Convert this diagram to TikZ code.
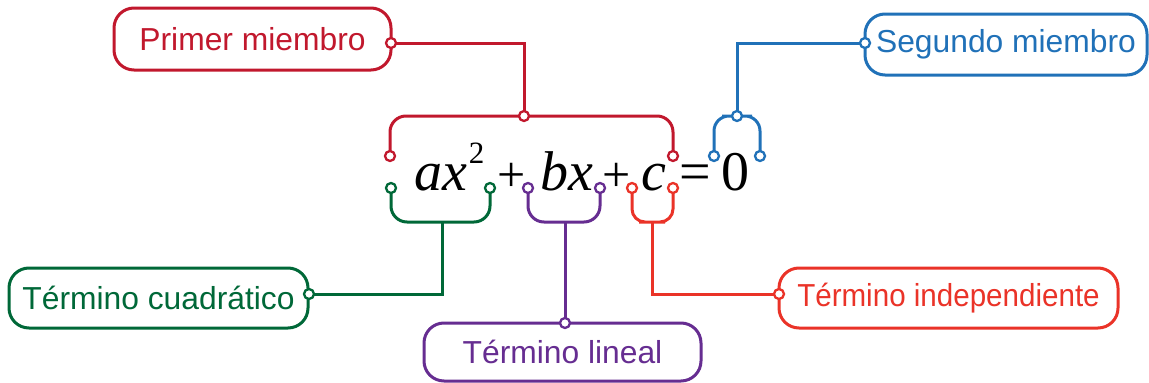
\documentclass[tikz,border=0pt]{standalone}
\usepackage{fontspec}
\usepackage{graphicx}
\setmainfont{Liberation Sans}
\newfontfamily\eqfont{Liberation Serif}
\definecolor{cred}{RGB}{193,24,45}
\definecolor{cblue}{RGB}{32,113,184}
\definecolor{cgreen}{RGB}{0,104,56}
\definecolor{cpurple}{RGB}{102,45,145}
\definecolor{corange}{RGB}{234,51,40}
\begin{document}
\begin{tikzpicture}[x=1pt,y=-1pt,
  label box/.style={draw, rounded corners=20pt, line width=3pt, inner sep=0pt,
    font=\fontsize{31.8}{36}\selectfont},
  conn/.style={line width=3pt, rounded corners=0pt},
  brack/.style={line width=3pt, rounded corners=16pt},
  pinpt/.style={circle, draw=#1, fill=white, inner sep=0pt, minimum size=10pt, line width=2.3pt},
  eq/.style={inner sep=0pt, anchor=base, font=\eqfont\fontsize{56}{60}\selectfont\itshape},
  eqr/.style={inner sep=0pt, anchor=base, font=\eqfont\fontsize{56}{60}\selectfont},
  eqs/.style={inner sep=0pt, anchor=base, font=\eqfont\fontsize{50}{54}\selectfont},
  eqt/.style={inner sep=0pt, anchor=base, font=\eqfont\fontsize{31}{34}\selectfont}]
\useasboundingbox (0,0) rectangle (1149,383);

% equation
\node[eq] (ax) at (441,190) {ax};
\node[eqt] (sq) at (476.5,163.5) {2};
\node[eqs] (pl1) at (512,191) {+};
\node[eq] (bx) at (566.5,190) {bx};
\node[eqs] (pl2) at (617,191) {+};
\node[eq] (cc) at (654,190) {c};
\node[eqr] (eqs) at (695,190) {=};
\node[eqr] (zero) at (735,190) {0};

% boxes
\node[label box, cred, minimum width=277pt, minimum height=62pt] (p1) at (252.5,39) {Primer miembro};
\node[label box, cblue, minimum width=282pt, minimum height=61pt] (s2) at (1006,44.5) {Segundo miembro};
\node[label box, cgreen, minimum width=299pt, minimum height=60pt] (tc) at (158.5,298) {Término cuadrático};
\node[label box, cpurple, minimum width=277pt, minimum height=58pt] (tl) at (562.5,352) {Término lineal};
\node[label box, corange, minimum width=339pt, minimum height=60pt] (ti) at (948.5,298) {\scalebox{0.93}[1]{Término independiente}};

% bracket coordinates
\coordinate (rL) at (390,156); \coordinate (rR) at (673,156); \coordinate (rC) at (524,116);
\coordinate (bL) at (714,156); \coordinate (bR) at (760,156); \coordinate (bC) at (737,116);
\coordinate (gL) at (391,188); \coordinate (gR) at (490,188); \coordinate (gC) at (442,222);
\coordinate (vL) at (528,188); \coordinate (vR) at (600,188); \coordinate (vC) at (565,222);
\coordinate (oL) at (632,188); \coordinate (oR) at (673,188); \coordinate (oC) at (652,222);
\coordinate (p1c) at (391,43);
\coordinate (s2c) at (865,43);
\coordinate (tcc) at (309,294);
\coordinate (tlc) at (565,323);
\coordinate (tic) at (779,294);

% red: primer miembro
\draw[brack, cred] (rL) |- (rC) -| (rR);
\draw[conn, cred] (rC) |- (p1c);
% blue: segundo miembro
\draw[brack, cblue, rounded corners=15pt] (bL) |- (bC) -| (bR);
\draw[conn, cblue] (bC) |- (s2c);
% green
\draw[brack, cgreen] (gL) |- (gC) -| (gR);
\draw[conn, cgreen] (gC) |- (tcc);
% purple
\draw[brack, cpurple] (vL) |- (vC) -| (vR);
\draw[conn, cpurple] (vC) -- (tlc);
% orange
\draw[brack, corange, rounded corners=13pt] (oL) |- (oC) -| (oR);
\draw[conn, corange] (oC) |- (tic);

% pins
\node[pinpt=cred] (d1) at (rL) {}; \node[pinpt=cred] (d2) at (rR) {}; \node[pinpt=cred] (d3) at (rC) {}; \node[pinpt=cred] (d4) at (p1c) {};
\node[pinpt=cblue] (d5) at (bL) {}; \node[pinpt=cblue] (d6) at (bR) {}; \node[pinpt=cblue] (d7) at (bC) {}; \node[pinpt=cblue] (d8) at (s2c) {};
\node[pinpt=cgreen] (d9) at (gL) {}; \node[pinpt=cgreen] (d10) at (gR) {}; \node[pinpt=cgreen] (d11) at (tcc) {};
\node[pinpt=cpurple] (d12) at (vL) {}; \node[pinpt=cpurple] (d13) at (vR) {}; \node[pinpt=cpurple] (d14) at (tlc) {};
\node[pinpt=corange] (d15) at (oL) {}; \node[pinpt=corange] (d16) at (oR) {}; \node[pinpt=corange] (d17) at (tic) {};
\end{tikzpicture}
\end{document}
